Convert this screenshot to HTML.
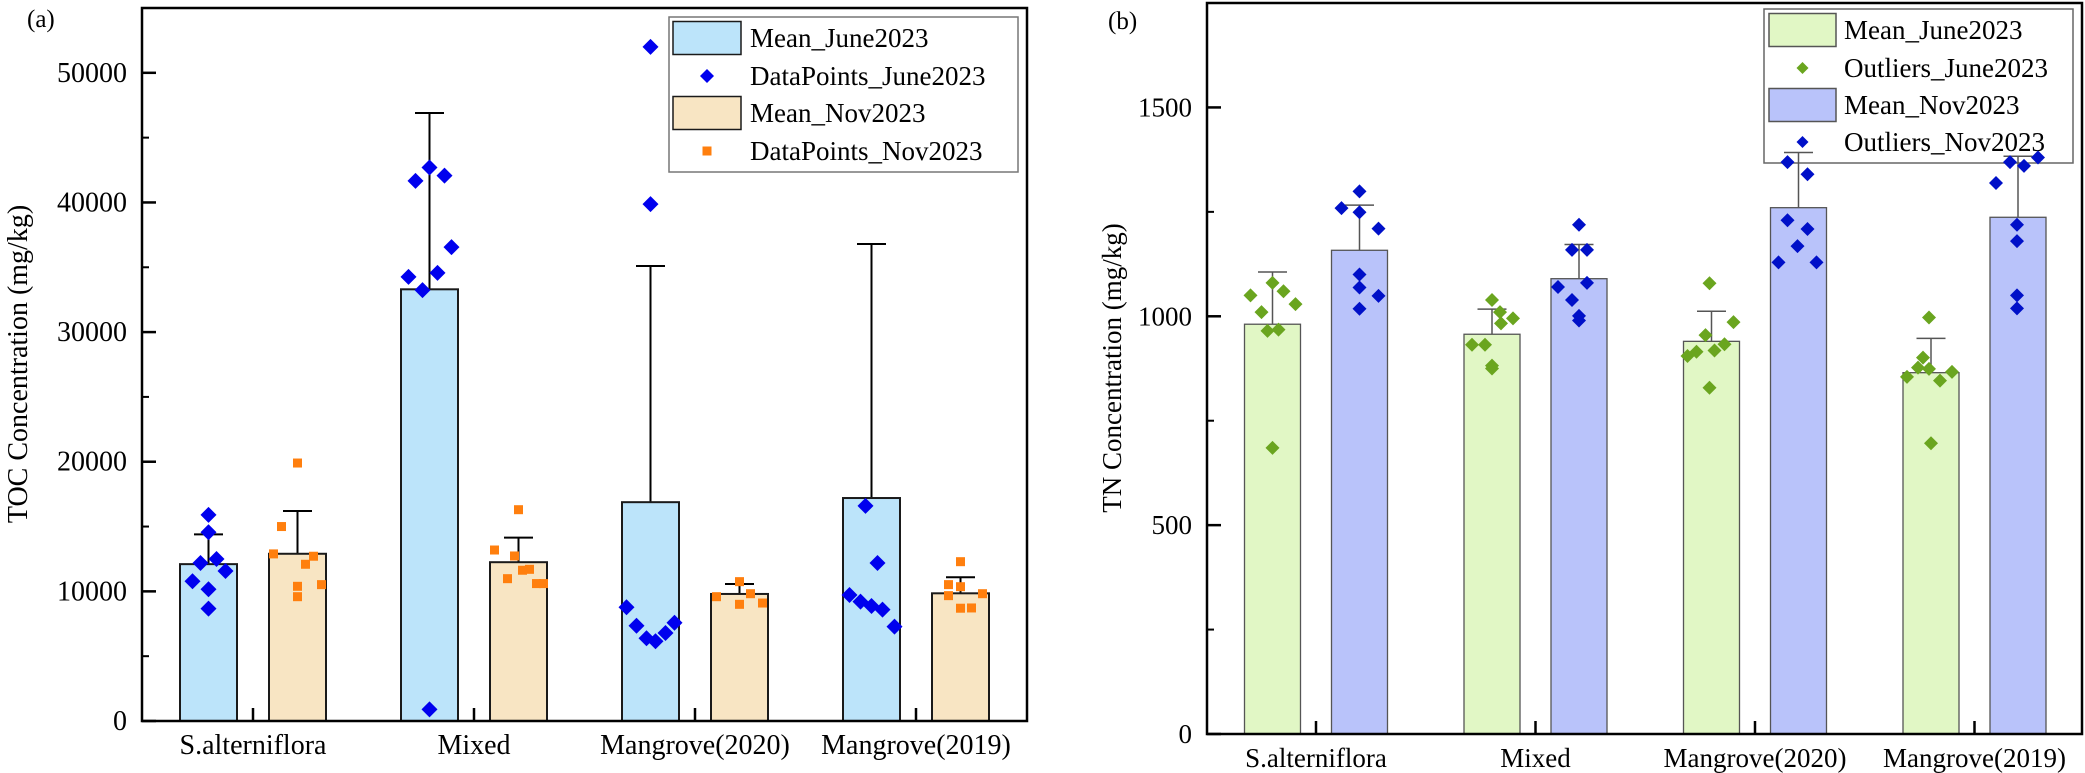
<!DOCTYPE html>
<html><head><meta charset="utf-8"><style>
html,body{margin:0;padding:0;background:#fff;}
svg{display:block;}
text{font-family:"Liberation Serif","DejaVu Serif",serif;}
</style></head><body>
<svg id="fig" width="2085" height="773" viewBox="0 0 2085 773" xmlns="http://www.w3.org/2000/svg" font-family="Liberation Serif, DejaVu Serif, serif">
<g id="A"></g>
<g id="B"></g>
</svg>
<script>
const categories = ["S.alterniflora","Mixed","Mangrove(2020)","Mangrove(2019)"];

// Panel (a) TOC
const tocTicks = [0,10000,20000,30000,40000,50000];
const tocMeanJune = [12100,33300,16880,17200];
const tocErrJune  = [14400,46900,35100,36800];
const tocMeanNov  = [12900,12250,9800,9850];
const tocErrNov   = [16200,14150,10570,11090];
const tocPtsJune = [
 [15900,14560,12190,12500,11570,10780,10160,8670],
 [42700,41660,42070,36550,34570,34260,33240,900],
 [52000,39870,8770,7350,6380,6150,6790,7580],
 [16590,12190,9720,9210,8870,8590,7280]
];
const tocPtsNov = [
 [19900,15000,12890,12710,12090,10520,10390,9590],
 [16300,13190,12730,11630,11700,10980,10600,10600],
 [10750,9590,9820,9000,9100],
 [12290,10520,10360,9670,9820,8700,8720]
];

// Panel (b) TN
const tnTicks = [0,500,1000,1500];
const tnMeanJune = [981,957,940,865];
const tnErrJune  = [1106,1017,1012,947];
const tnMeanNov  = [1158,1090,1260,1237];
const tnErrNov   = [1266,1172,1392,1383];
const tnPtsJune = [
 [1080,1050,1060,1029,1010,965,968,685],
 [1039,932,932,1010,995,983,882,875],
 [1079,986,955,933,918,915,905,829],
 [997,901,877,874,867,855,846,696]
];
const tnPtsNov = [
 [1299,1259,1249,1210,1100,1069,1049,1018],
 [1219,1159,1159,1070,1080,1039,1001,990],
 [1369,1340,1230,1209,1168,1129,1129],
 [1380,1369,1360,1319,1219,1180,1050,1019]
];

// jitter layout (px offsets, not data)
const jitA_J=[[0,0,-8,8,17,-16,0,0],[0,-14,15,22,8,-21,-7,0],[0,0,-24,-14,-4,5,15,24],[-6,6,-22,-11,0,11,23]];
const jitA_N=[[0,-16,-24,16,8,24,0,0],[0,-24,-4,4,11,-11,18,25],[0,-23,11,0,23],[0,-12,0,-12,22,0,11]];
const jitB_J=[[0,-22,11,23,-11,-5,6,0],[0,-20,-7,8,21,9,0,0],[-2,22,-6,13,3,-15,-24,-2],[-2,-8,-13,-2,21,-24,9,0]];
const jitB_N=[[0,-18,0,19,0,0,19,0],[0,-7,8,-21,8,-7,0,0],[-11,9,-11,9,-1,-20,18],[20,-8,6,-22,-1,-1,-1,-1]];

const NS="http://www.w3.org/2000/svg";
const FF="'Liberation Serif','DejaVu Serif',serif";
function mk(parent,tag,attrs,text){const e=document.createElementNS(NS,tag);for(const k in attrs)e.setAttribute(k,attrs[k]);if(text!==undefined){e.textContent=text;e.setAttribute('font-family',FF);}parent.appendChild(e);return e;}

function drawPanel(g,cfg){
  const y=v=>cfg.y0-(v-0)*(cfg.y0-cfg.yTop)/cfg.ymax;
  const xc=i=>cfg.x0+cfg.first+i*cfg.step;
  // legend (drawn first so marks overlay it)
  const L=cfg.leg;
  const lg=mk(g,'g',{});
  
  
  const lb=mk(lg,'rect',{x:L.x,y:L.y,width:L.w,height:L.h,fill:'#fff',stroke:L.border,'stroke-width':1.5});
  
  
  L.items.forEach((it,k)=>{
    const cy=L.rows[k];
    let sw;
    if(it.type==='rect') sw=mk(lg,'rect',{x:L.sx,y:cy-16.5,width:L.sw,height:33,fill:it.col,stroke:cfg.legSwStroke,'stroke-width':1.5});
    else if(it.type==='sq') sw=mk(lg,'rect',{x:L.sx+L.sw/2-4.5,y:cy-4.5,width:9,height:9,fill:it.col});
    else {const px=L.sx+L.sw/2,d=it.d;sw=mk(lg,'polygon',{points:`${px},${cy-d} ${px+d},${cy} ${px},${cy+d} ${px-d},${cy}`,fill:it.col});}
    
    
    const tx=mk(lg,'text',{x:L.tx,y:cy+9,'font-size':27},it.label);
    
    
  });
  for(let s=0;s<2;s++){
    const means=s?cfg.meanN:cfg.meanJ, errs=s?cfg.errN:cfg.errJ;
    for(let i=0;i<categories.length;i++){
      const cx=xc(i)+(s?cfg.off:-cfg.off);
      const eb=mk(g,'line',{x1:cx,x2:cx,y1:y(means[i]),y2:y(errs[i]),stroke:cfg.errCol,'stroke-width':cfg.errW});
      
      
      const cap=mk(g,'line',{x1:cx-cfg.cap/2,x2:cx+cfg.cap/2,y1:y(errs[i]),y2:y(errs[i]),stroke:cfg.errCol,'stroke-width':cfg.errW});
      
      
      const r=mk(g,'rect',{x:cx-cfg.bw/2,y:y(means[i]),width:cfg.bw,height:cfg.y0-y(means[i]),fill:s?cfg.fillN:cfg.fillJ,stroke:cfg.barStroke,'stroke-width':cfg.barW});
      
      
    }
  }
  for(let s=0;s<2;s++){
    const pts=s?cfg.ptsN:cfg.ptsJ, jit=s?cfg.jitN:cfg.jitJ;
    for(let i=0;i<categories.length;i++){
      const cx=xc(i)+(s?cfg.off:-cfg.off);
      pts[i].forEach((v,k)=>{
        const px=cx+(jit[i][k]||0), py=y(v);
        let m;
        const shape=s?cfg.shapeN:cfg.shapeJ, col=s?cfg.ptN:cfg.ptJ, d=cfg.ms;
        if(shape==='sq') m=mk(g,'rect',{x:px-4.5,y:py-4.5,width:9,height:9,fill:col});
        else m=mk(g,'polygon',{points:`${px},${py-d} ${px+d},${py} ${px},${py+d} ${px-d},${py}`,fill:col});
        
        
      });
    }
  }
  const fr=mk(g,'rect',{x:cfg.x0,y:cfg.yTop,width:cfg.x1-cfg.x0,height:cfg.y0-cfg.yTop,fill:'none',stroke:'#000','stroke-width':2.5});
  
  
  cfg.ticks.forEach(t=>{
    const tk=mk(g,'line',{x1:cfg.x0,x2:cfg.x0+14,y1:y(t),y2:y(t),stroke:'#000','stroke-width':2.5});
    
    
    const lb2=mk(g,'text',{x:cfg.x0-15,y:y(t)+9,'text-anchor':'end','font-size':cfg.fs},String(t));
    
    
  });
  for(let t=cfg.minor;t<cfg.ymax;t+=cfg.minor*2){
    const mt=mk(g,'line',{x1:cfg.x0,x2:cfg.x0+7,y1:y(t),y2:y(t),stroke:'#000','stroke-width':2});
    
    
  }
  categories.forEach((c,i)=>{
    const tk=mk(g,'line',{x1:xc(i),x2:xc(i),y1:cfg.y0,y2:cfg.y0-13,stroke:'#000','stroke-width':2.5});
    
    
    const lb2=mk(g,'text',{x:xc(i),y:cfg.y0+33,'text-anchor':'middle','font-size':cfg.fs},c);
    
    
  });
  const yt=mk(g,'text',{x:0,y:0,transform:`translate(${cfg.titleX},${cfg.titleY}) rotate(-90)`,'text-anchor':'middle','font-size':cfg.fs},cfg.title);
  
  
  const pl=mk(g,'text',{x:cfg.plX,y:cfg.plY,'font-size':25},cfg.panel);
  
  
}

drawPanel(document.getElementById('A'),{
  x0:142,x1:1027,y0:721,yTop:8,ymax:55000,first:111,step:221,off:44.5,bw:57,cap:29,
  meanJ:tocMeanJune,errJ:tocErrJune,meanN:tocMeanNov,errN:tocErrNov,ptsJ:tocPtsJune,ptsN:tocPtsNov,jitJ:jitA_J,jitN:jitA_N,
  fillJ:'#bce4fa',fillN:'#f8e5c3',barStroke:'#1a1a1a',barW:2,errCol:'#000',errW:2,
  ptJ:'#0000ee',ptN:'#ff7f0e',shapeJ:'dia',shapeN:'sq',ms:8,
  ticks:tocTicks,minor:5000,fs:28,title:'TOC Concentration (mg/kg)',titleX:27,titleY:364,panel:'(a)',plX:27,plY:27,
  legSwStroke:'#1a1a1a',
  leg:{x:669,y:17,w:349,h:155,border:'#777',sx:673,sw:68,tx:750,rows:[38,76,113,151],
    items:[{type:'rect',col:'#bce4fa',label:'Mean_June2023'},{type:'dia',col:'#0000ee',d:7,label:'DataPoints_June2023'},
           {type:'rect',col:'#f8e5c3',label:'Mean_Nov2023'},{type:'sq',col:'#ff7f0e',label:'DataPoints_Nov2023'}]}
});

drawPanel(document.getElementById('B'),{
  x0:1207,x1:2082,y0:734,yTop:3,ymax:1750,first:109,step:219.5,off:43.5,bw:56,cap:29,
  meanJ:tnMeanJune,errJ:tnErrJune,meanN:tnMeanNov,errN:tnErrNov,ptsJ:tnPtsJune,ptsN:tnPtsNov,jitJ:jitB_J,jitN:jitB_N,
  fillJ:'#e1f7c5',fillN:'#b9c3fa',barStroke:'#555',barW:1.3,errCol:'#555',errW:1.5,
  ptJ:'#6aa51f',ptN:'#0010c8',shapeJ:'dia',shapeN:'dia',ms:7,
  ticks:tnTicks,minor:250,fs:27,title:'TN Concentration (mg/kg)',titleX:1121,titleY:368,panel:'(b)',plX:1108,plY:29,
  legSwStroke:'#555',
  leg:{x:1764,y:9,w:309,h:154,border:'#666',sx:1769,sw:67,tx:1844,rows:[30,68,105,142],
    items:[{type:'rect',col:'#e1f7c5',label:'Mean_June2023'},{type:'dia',col:'#6aa51f',d:6,label:'Outliers_June2023'},
           {type:'rect',col:'#b9c3fa',label:'Mean_Nov2023'},{type:'dia',col:'#0010c8',d:6,label:'Outliers_Nov2023'}]}
});
</script>
</body></html>
